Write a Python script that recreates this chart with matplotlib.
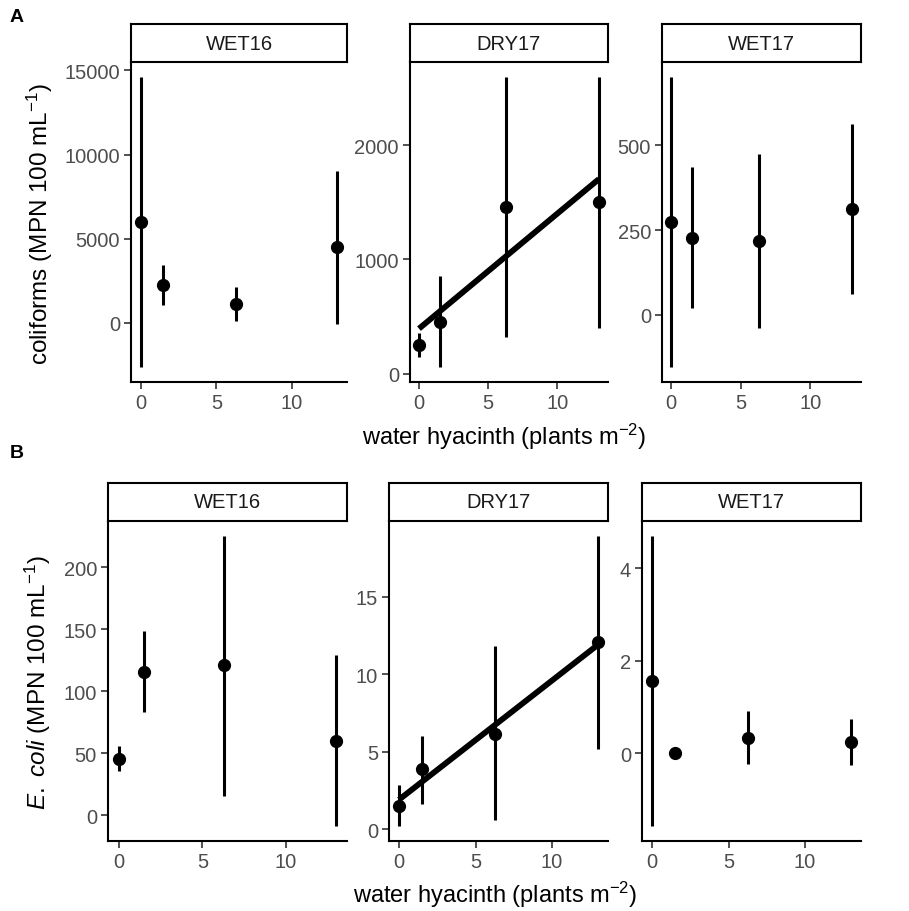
import numpy as np
import matplotlib.pyplot as plt

plt.rcParams['font.family'] = ['Liberation Sans', 'DejaVu Sans']
plt.rcParams['mathtext.fontset'] = 'custom'
plt.rcParams['mathtext.rm'] = 'Liberation Sans'
plt.rcParams['mathtext.it'] = 'Liberation Sans:italic'

# plant density (plants m-2)
density = [0, 1.5, 6.3, 13]
seasons = ["WET16", "DRY17", "WET17"]

# coliforms: mean, lower, upper
coli_mean = {"WET16": [6000, 2230, 1120, 4500],
             "DRY17": [249, 455, 1460, 1504],
             "WET17": [273, 228, 217, 312]}
coli_low = {"WET16": [-2650, 1080, 120, -60],
            "DRY17": [147, 53, 323, 396],
            "WET17": [-155, 20, -40, 62]}
coli_high = {"WET16": [14640, 3430, 2110, 9050],
             "DRY17": [352, 850, 2600, 2600],
             "WET17": [703, 436, 476, 564]}

# E. coli: mean, lower, upper
ecoli_mean = {"WET16": [45.4, 116, 121, 60.3],
              "DRY17": [1.49, 3.85, 6.17, 12.1],
              "WET17": [1.57, 0.0, 0.33, 0.24]}
ecoli_low = {"WET16": [36, 83.5, 15.7, -8.9],
             "DRY17": [0.17, 1.65, 0.56, 5.17],
             "WET17": [-1.58, 0.0, -0.24, -0.25]}
ecoli_high = {"WET16": [56, 149, 225.7, 129.2],
              "DRY17": [2.84, 6.04, 11.8, 18.96],
              "WET17": [4.71, 0.0, 0.91, 0.75]}

coli_ticks = {"WET16": [0, 5000, 10000, 15000], "DRY17": [0, 1000, 2000], "WET17": [0, 250, 500]}
ecoli_ticks = {"WET16": [0, 50, 100, 150, 200], "DRY17": [0, 5, 10, 15], "WET17": [0, 2, 4]}

W, H = 909, 912
fig = plt.figure(figsize=(W / 100, H / 100), dpi=100)


def box(l, r, t, b):
    return [l / W, 1 - b / H, (r - l) / W, (b - t) / H]


def panel(l, r, t, b, season, mean, low, high, ticks, fit):
    ax = fig.add_axes(box(l, r, t, b))
    m, lo, hi = np.array(mean[season]), np.array(low[season]), np.array(high[season])
    ax.vlines(density, lo, hi, color='black', lw=2.2)
    ax.plot(density, m, 'o', color='black', ms=8.5)
    ymin, ymax = lo.min(), hi.max()
    if fit:
        k, c = np.polyfit(density, m, 1)
        xs = np.array([min(density), max(density)])
        ax.plot(xs, k * xs + c, color='black', lw=4.2, solid_capstyle='butt')
    pad = (ymax - ymin) * 0.05
    ax.set_ylim(ymin - pad, ymax + pad)
    ax.set_xlim(-0.65, 13.65)
    ax.set_xticks([0, 5, 10])
    ax.set_yticks(ticks[season])
    for s in ['top', 'right']:
        ax.spines[s].set_visible(False)
    for s in ['left', 'bottom']:
        ax.spines[s].set_linewidth(1.5)
    ax.tick_params(length=5, width=1.2, color='#333333', labelcolor='#4d4d4d',
                   labelsize=14.5, pad=3)
    # strip
    st = fig.add_axes(box(l, r, t - 38, t))
    st.set_xticks([])
    st.set_yticks([])
    for s in st.spines.values():
        s.set_linewidth(1.5)
    st.text(0.5, 0.5, season, ha='center', va='center', fontsize=14.5, color='#1a1a1a')
    return ax


top = [(131, 347), (410, 608), (662, 861)]
bot = [(108, 347), (389, 608), (642, 861)]
for (l, r), s in zip(top, seasons):
    panel(l, r, 63, 383, s, coli_mean, coli_low, coli_high, coli_ticks, s == "DRY17")
for (l, r), s in zip(bot, seasons):
    panel(l, r, 522, 842, s, ecoli_mean, ecoli_low, ecoli_high, ecoli_ticks, s == "DRY17")

fig.text(40 / W, 1 - 224 / H, r'coliforms (MPN 100 mL$^{-1}$)', rotation=90,
         ha='center', va='center', fontsize=17.5)
fig.text(38 / W, 1 - 682 / H, r'$\mathit{E.\ coli}$ (MPN 100 mL$^{-1}$)', rotation=90,
         ha='center', va='center', fontsize=17.5)
fig.text(504 / W, 1 - 437 / H, r'water hyacinth (plants m$^{-2}$)',
         ha='center', va='center', fontsize=17)
fig.text(495 / W, 1 - 895 / H, r'water hyacinth (plants m$^{-2}$)',
         ha='center', va='center', fontsize=17)
fig.text(17 / W, 1 - 18 / H, 'A', ha='center', va='center', fontsize=14, fontweight='bold')
fig.text(17 / W, 1 - 454 / H, 'B', ha='center', va='center', fontsize=14, fontweight='bold')

fig.savefig('out.png', dpi=100)
